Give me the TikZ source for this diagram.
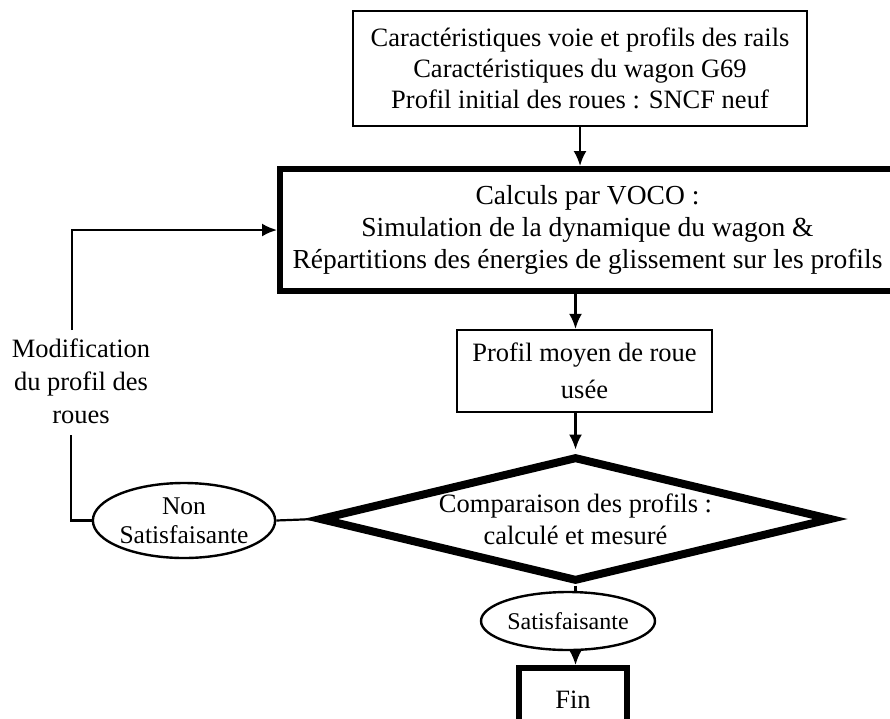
\documentclass[tikz,border=0pt]{standalone}
\usepackage{fontspec}
\setmainfont{Liberation Serif}
\usetikzlibrary{shapes.geometric,arrows.meta}
\begin{document}
\begin{tikzpicture}[x=1pt,y=-1pt,
  thinbox/.style={draw, line width=2.4pt, inner sep=0pt, align=center, font=\fontsize{26.5}{31}\selectfont},
  thickbox/.style={draw, line width=6pt, inner sep=0pt, align=center, font=\fontsize{27.5}{32}\selectfont},
  oval/.style={draw, ellipse, line width=2.4pt, inner sep=0pt, align=center, font=\fontsize{24}{29}\selectfont},
  conn/.style={line width=2.2pt},
  arr/.style={conn, -{Latex[length=15pt,width=13pt]}},
  lbl/.style={align=center, inner sep=0pt, font=\fontsize{26.5}{33}\selectfont}
]
\useasboundingbox (0,0) rectangle (890,718);
\fill[white] (0,0) rectangle (890,718);

\node[thinbox, minimum width=454pt, minimum height=115pt] (top) at (580,68.5)
  {Caractéristiques voie et profils des rails\\Caractéristiques du wagon G69\\Profil initial des roues : SNCF neuf};

\node[thickbox, minimum width=615pt, minimum height=122pt] (calc) at (587.5,230)
  {Calculs par VOCO :\\Simulation de la dynamique du wagon \&\\Répartitions des énergies de glissement sur les profils};

\node[thinbox, minimum width=255pt, minimum height=82pt, font=\fontsize{26.5}{37}\selectfont] (profil) at (584.5,371)
  {Profil moyen de roue\\usée};

\node[draw, diamond, line width=8pt, inner sep=0pt, aspect=4.08, minimum width=513pt, minimum height=125pt,
  align=center, font=\fontsize{26.5}{32}\selectfont] (dia) at (575.5,519)
  {\rule{0pt}{14pt}Comparaison des profils :\\calculé et mesuré};

\node[oval, minimum width=158pt, minimum height=75pt, font=\fontsize{25.5}{29}\selectfont] (non) at (184,520.5) {Non\\Satisfaisante};

\node[oval, minimum width=174pt, minimum height=58pt] (sat) at (568,621) {Satisfaisante};

\node[thickbox, minimum width=108pt, minimum height=64pt, font=\fontsize{26.5}{31}\selectfont] (fin) at (573,700) {Fin};

\node[lbl] (modif) at (81,381) {Modification\\du profil des\\roues};
\coordinate (mb) at (71,435);
\coordinate (mt) at (72,330);

\draw[arr] (top.south) -- (top.south |- calc.north);
\draw[arr] (calc.south -| dia.north) -- (profil.north -| dia.north);
\draw[arr, shorten >=3pt] (profil.south -| dia.north) -- (dia.north);
\draw[conn] (dia.south) -- (dia.south |- sat.north);
\draw[arr] (sat.south -| dia.south) -- (fin.north -| dia.south);
\draw[conn] (dia.west) -- (non.east);
\draw[conn] (non.west) -| (mb);
\draw[arr] (mt) |- (calc.west);
\end{tikzpicture}
\end{document}
